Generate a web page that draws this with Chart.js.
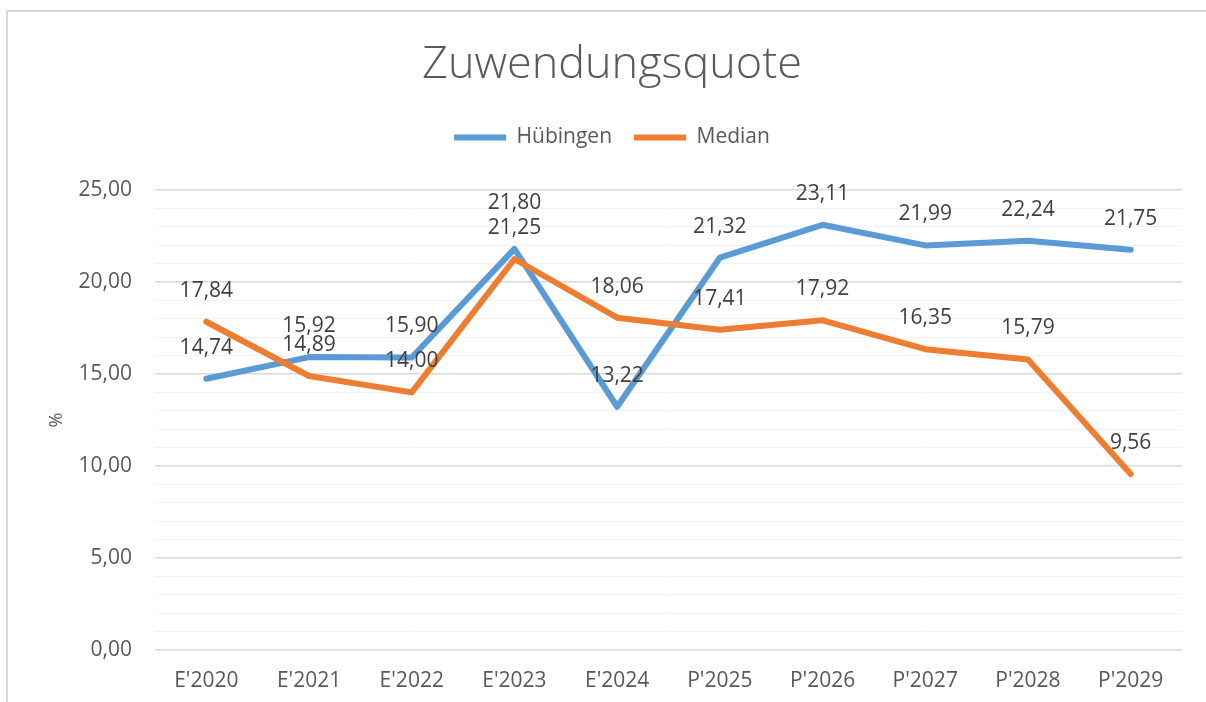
<!DOCTYPE html>
<html lang="de">
<head>
<meta charset="utf-8">
<title>Zuwendungsquote</title>
<script src="https://cdn.jsdelivr.net/npm/chart.js@4/dist/chart.umd.min.js"></script>
<style>
    html, body { margin: 0; padding: 0; background: #fff; overflow: hidden; }
    #wrap { position: relative; width: 1206px; height: 702px; }
    #frame { position: absolute; left: 6px; top: 10px; width: 1300px; height: 800px; border: 2px solid #d9d9d9; box-sizing: border-box; }
    #chart { position: absolute; left: 0; top: 0; }
</style>
</head>
<body>
<div id="wrap">
    <div id="frame"></div>
    <canvas id="chart" width="1206" height="702"></canvas>
</div>
<script>
// ─── Daten ───
const categories = ["E'2020", "E'2021", "E'2022", "E'2023", "E'2024", "P'2025", "P'2026", "P'2027", "P'2028", "P'2029"];
const huebingen  = [14.74, 15.92, 15.90, 21.80, 13.22, 21.32, 23.11, 21.99, 22.24, 21.75];
const median     = [17.84, 14.89, 14.00, 21.25, 18.06, 17.41, 17.92, 16.35, 15.79, 9.56];
const seriesNames = ['Hübingen', 'Median'];
const yTicks = [0, 5, 10, 15, 20, 25];

const FONT = '"Open Sans", "Noto Sans", sans-serif';
const TEXT = '#595959';

// Zahl im deutschen Format (2 Nachkommastellen)
const fmt = v => v.toFixed(2).replace('.', ',');

// Abstandhalter zwischen Legende und Zeichenfläche
const spacerPlugin = {
    id: 'spacer',
    afterInit(chart) {
        Chart.layouts.addBox(chart, {
            position: 'top', weight: -10, fullSize: true,
            options: {},
            width: 0, height: 0,
            update(maxWidth) { this.width = maxWidth; this.height = 32; },
            isHorizontal() { return true; },
            draw() {},
        });
    },
};

// Datenbeschriftungen über den Punkten
const labelPlugin = {
    id: 'pointLabels',
    afterDatasetsDraw(chart) {
        const ctx = chart.ctx;
        ctx.save();
        ctx.font = '21px ' + FONT;
        ctx.fillStyle = '#404040';
        ctx.textAlign = 'center';
        ctx.textBaseline = 'middle';
        chart.data.labels.forEach((_, i) => {
            const items = chart.data.datasets.map((ds, d) => {
                const pt = chart.getDatasetMeta(d).data[i];
                return { x: pt.x, y: pt.y - 31, text: fmt(ds.data[i]) };
            }).sort((a, b) => a.y - b.y);
            // Überlappung vermeiden: obere Beschriftung nach oben schieben
            for (let k = items.length - 2; k >= 0; k--) {
                if (items[k + 1].y - items[k].y < 12) items[k].y = items[k + 1].y - 25;
            }
            items.forEach(it => ctx.fillText(it.text, it.x, it.y));
        });
        ctx.restore();
    },
};

const lineStyle = {
    borderWidth: 6,
    pointRadius: 0,
    pointHoverRadius: 0,
    tension: 0,
    borderCapStyle: 'round',
    borderJoinStyle: 'round',
    fill: false,
};

new Chart(document.getElementById('chart'), {
    type: 'line',
    data: {
        labels: categories,
        datasets: [
            { label: seriesNames[0], data: huebingen, borderColor: '#5B9BD5', backgroundColor: '#5B9BD5', order: 2, ...lineStyle },
            { label: seriesNames[1], data: median,    borderColor: '#ED7D31', backgroundColor: '#ED7D31', order: 1, ...lineStyle },
        ],
    },
    options: {
        responsive: false,
        animation: false,
        devicePixelRatio: 1,
        layout: { padding: { left: 42, right: 24, top: 0, bottom: 8 } },
        plugins: {
            title: {
                display: true,
                text: 'Zuwendungsquote',
                color: TEXT,
                font: { family: FONT, size: 45, weight: '300' },
                padding: { top: 38, bottom: 13 },
            },
            legend: {
                display: true,
                position: 'top',
                labels: {
                    color: TEXT,
                    font: { family: FONT, size: 21 },
                    usePointStyle: true,
                    pointStyle: 'line',
                    pointStyleWidth: 52,
                    padding: 22,
                    sort: (a, b) => a.datasetIndex - b.datasetIndex,
                },
            },
            tooltip: { enabled: false },
        },
        scales: {
            x: {
                offset: true,
                grid: { display: false, drawTicks: false },
                border: { display: false },
                ticks: { color: TEXT, font: { family: FONT, size: 21 }, padding: 18, maxRotation: 0, autoSkip: false },
                afterFit(scale) { scale.height = 44; },
            },
            y: {
                min: 0,
                max: 25,
                border: { display: false },
                grid: {
                    drawTicks: false,
                    color: c => (yTicks.includes(c.tick.value) ? '#d9d9d9' : '#f2f2f2'),
                    lineWidth: c => (yTicks.includes(c.tick.value) ? 1.5 : 1),
                },
                ticks: {
                    stepSize: 1,
                    autoSkip: false,
                    padding: 23,
                    color: TEXT,
                    font: { family: FONT, size: 21 },
                    callback: v => (yTicks.includes(v) ? fmt(v) : ''),
                },
                title: {
                    display: true,
                    text: '%',
                    color: TEXT,
                    font: { family: FONT, size: 18 },
                    padding: { top: 4, bottom: 4 },
                },
                afterFit(scale) { scale.width = 113; },
            },
        },
    },
    plugins: [spacerPlugin, labelPlugin],
});
</script>
</body>
</html>
